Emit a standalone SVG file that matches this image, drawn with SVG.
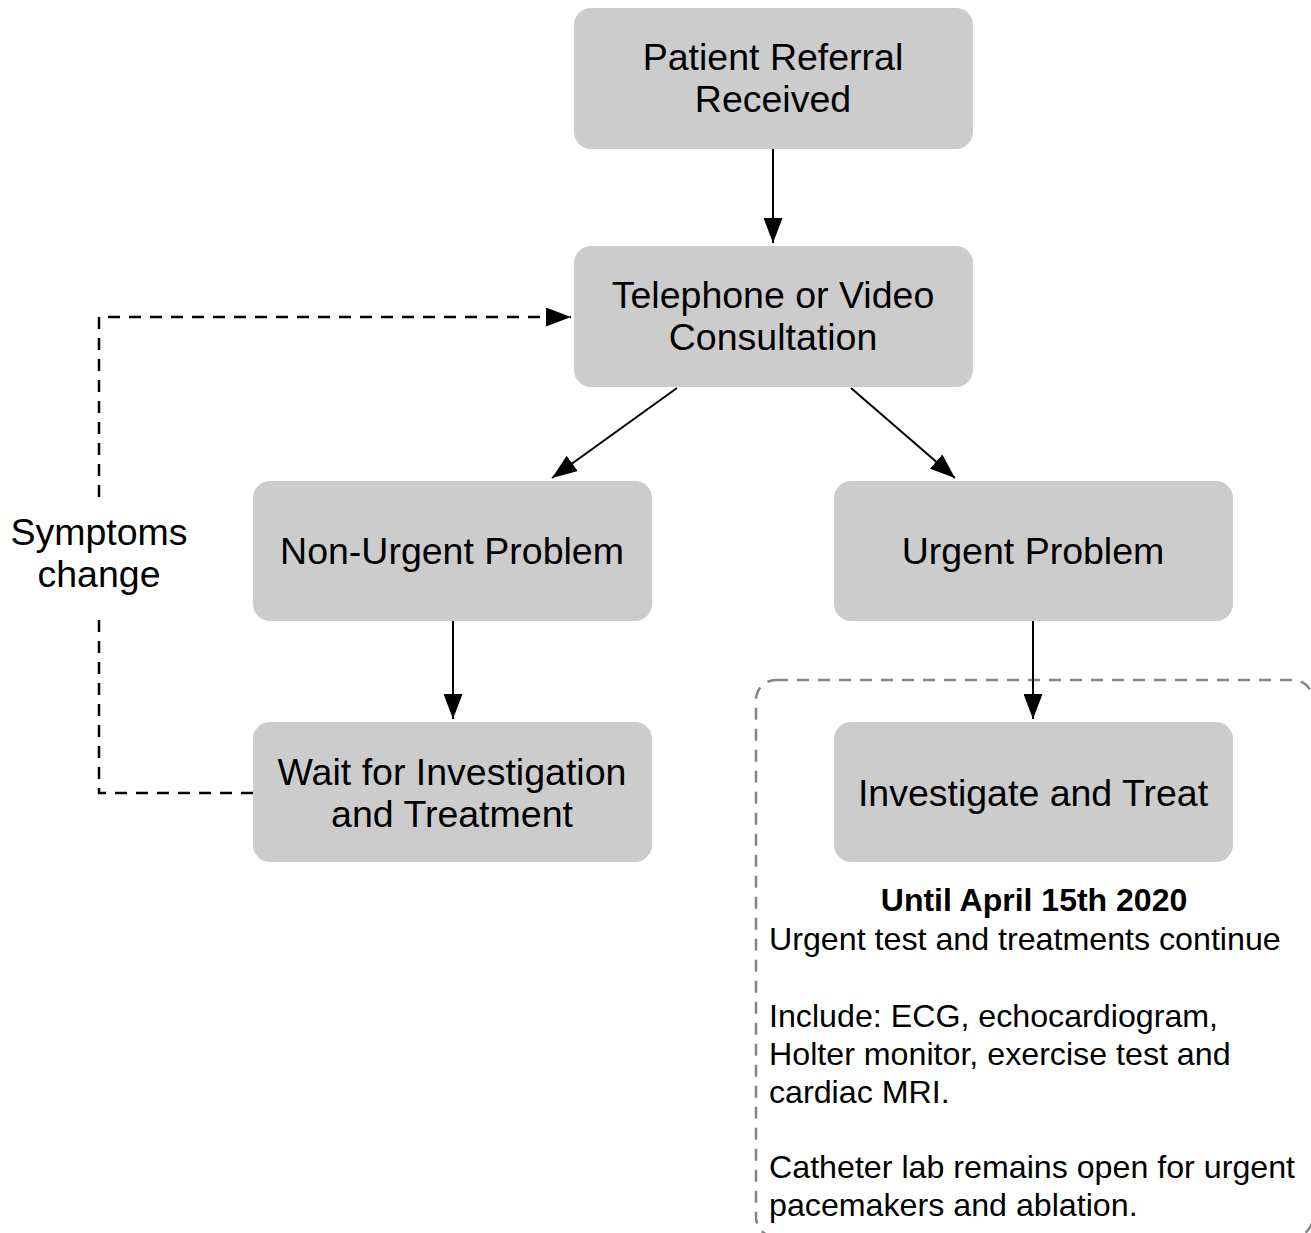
<svg xmlns="http://www.w3.org/2000/svg" width="1311" height="1233" viewBox="0 0 1311 1233">
<style>
.box{fill:#cccccc;}
.lbl{font-family:"Liberation Sans",Arial,Helvetica,sans-serif;font-size:37.5px;fill:#000;text-anchor:middle;}
.body{font-family:"Liberation Sans",Arial,Helvetica,sans-serif;font-size:32.2px;fill:#000;}
.bold{font-weight:bold;text-anchor:middle;font-size:32px;}
.edge{stroke:#000;stroke-width:2;fill:none;}
.dash{stroke-width:2.5;stroke-dasharray:12 9;}
.group{fill:none;stroke:#858585;stroke-width:2.5;stroke-dasharray:12 9;}
</style>
<defs>
<marker id="ah" markerUnits="userSpaceOnUse" markerWidth="25" markerHeight="19" refX="25" refY="9.5" orient="auto">
<path d="M0,0 L25,9.5 L0,19 z" fill="#000"/>
</marker>
</defs>
<rect width="1311" height="1233" fill="#fff"/>
<g id="container">
<rect class="group" x="756" y="680" width="557" height="557" rx="20"/>
<text class="body bold" x="1034" y="911">Until April 15th 2020</text>
<text class="body" x="769" y="950">Urgent test and treatments continue</text>
<text class="body" x="769" y="1027">Include: ECG, echocardiogram,</text>
<text class="body" x="769" y="1065">Holter monitor, exercise test and</text>
<text class="body" x="769" y="1103">cardiac MRI.</text>
<text class="body" x="769" y="1178">Catheter lab remains open for urgent</text>
<text class="body" x="769" y="1216">pacemakers and ablation.</text>
</g>
<g id="n1">
<rect class="box" x="574" y="8" width="399" height="141" rx="17"/>
<text class="lbl" x="773" y="70">Patient Referral</text>
<text class="lbl" x="773" y="112">Received</text>
</g>
<g id="n2">
<rect class="box" x="574" y="246" width="399" height="141" rx="17"/>
<text class="lbl" x="773" y="308">Telephone or Video</text>
<text class="lbl" x="773" y="350">Consultation</text>
</g>
<g id="n3">
<rect class="box" x="253" y="481" width="399" height="140" rx="17"/>
<text class="lbl" x="452" y="564">Non-Urgent Problem</text>
</g>
<g id="n4">
<rect class="box" x="834" y="481" width="399" height="140" rx="17"/>
<text class="lbl" x="1033" y="564">Urgent Problem</text>
</g>
<g id="n5">
<rect class="box" x="253" y="722" width="399" height="140" rx="17"/>
<text class="lbl" x="452" y="785">Wait for Investigation</text>
<text class="lbl" x="452" y="827">and Treatment</text>
</g>
<g id="n6">
<rect class="box" x="834" y="722" width="399" height="140" rx="17"/>
<text class="lbl" x="1033" y="806">Investigate and Treat</text>
</g>
<g id="connectors">
<line class="edge" x1="773" y1="149" x2="773" y2="243" marker-end="url(#ah)"/>
<line class="edge" x1="677" y1="388" x2="552" y2="478" marker-end="url(#ah)"/>
<line class="edge" x1="851" y1="388" x2="955" y2="478" marker-end="url(#ah)"/>
<line class="edge" x1="453" y1="621" x2="453" y2="719" marker-end="url(#ah)"/>
<line class="edge" x1="1033" y1="621" x2="1033" y2="719" marker-end="url(#ah)"/>
<path class="edge dash" d="M253,793 H99 V612 M99,497 V317 H571" marker-end="url(#ah)"/>
<text class="lbl" x="99" y="545">Symptoms</text>
<text class="lbl" x="99" y="587">change</text>
</g>
</svg>
